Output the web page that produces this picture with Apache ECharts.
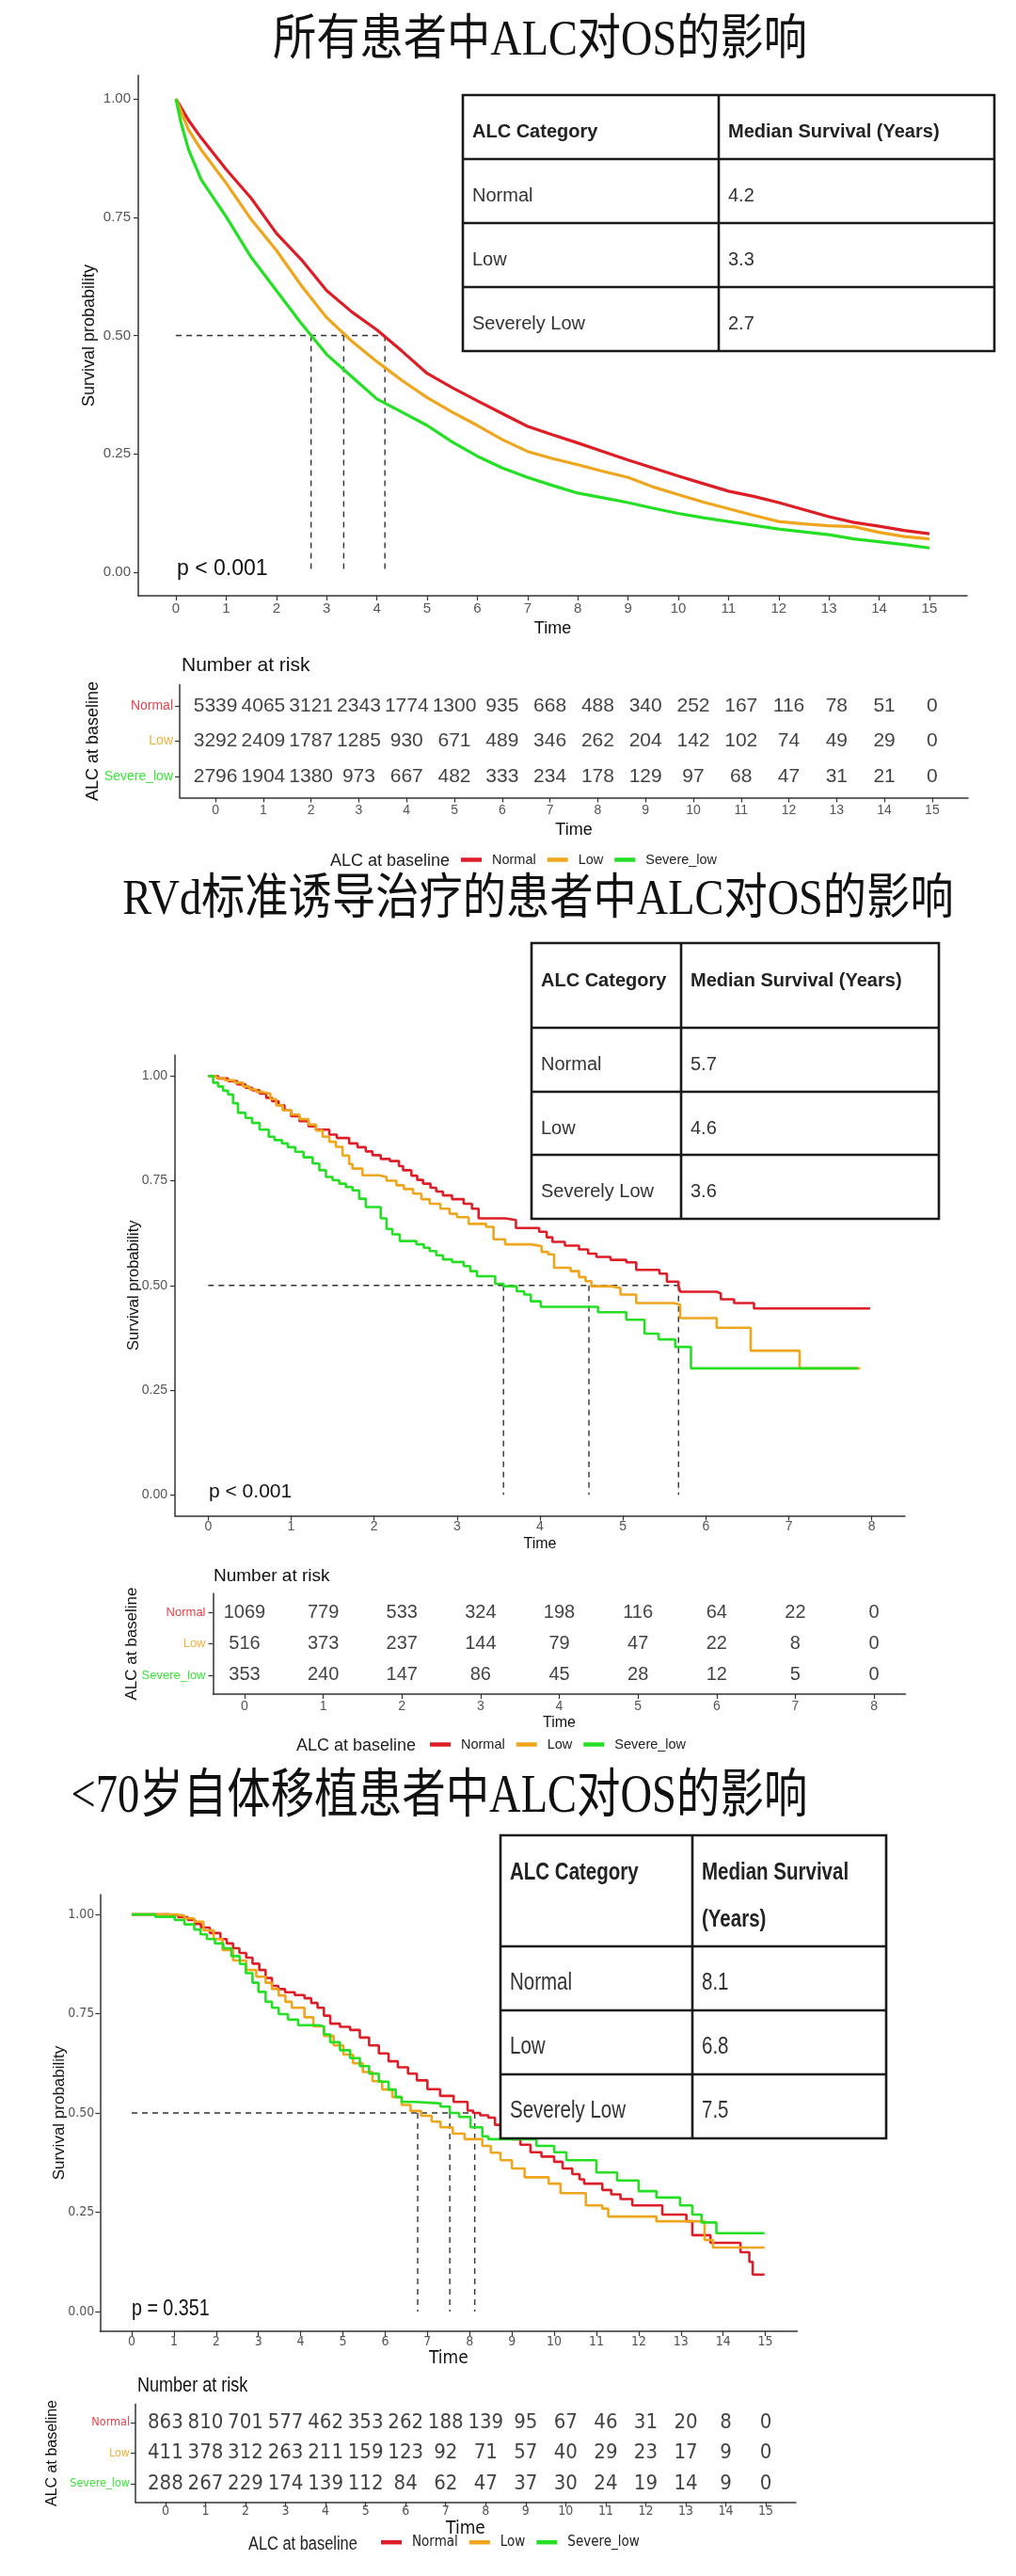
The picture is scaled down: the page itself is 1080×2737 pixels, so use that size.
<!DOCTYPE html>
<html><head><meta charset="utf-8">
<script src="https://cdn.jsdelivr.net/npm/echarts@6/dist/echarts.min.js"></script>
<style>html,body{margin:0;padding:0;background:#fff}#c{width:1080px;height:2737px}</style>
</head><body><div id="c"></div>
<script>
// ---------------- DATA ----------------
const categories = ['Normal', 'Low', 'Severe_low'];
const tableCats = ['Normal', 'Low', 'Severely Low'];

// Panel 1: all patients
const km1Normal = [[0,1],[0.25,0.955],[0.5,0.918],[1,0.851],[1.5,0.79],[2,0.716],[2.5,0.66],[3,0.595],[3.5,0.55],[4,0.512],[4.5,0.467],[5,0.42],[5.5,0.39],[6,0.362],[6.5,0.335],[7,0.308],[7.5,0.29],[8,0.273],[8.5,0.255],[9,0.237],[9.5,0.22],[10,0.203],[10.5,0.187],[11,0.171],[11.5,0.16],[12,0.147],[12.5,0.132],[13,0.117],[13.5,0.105],[14,0.097],[14.5,0.088],[15,0.081]];
const km1Low = [[0,1],[0.25,0.935],[0.5,0.893],[1,0.822],[1.5,0.745],[2,0.68],[2.5,0.605],[3,0.538],[3.5,0.488],[4,0.445],[4.5,0.405],[5,0.369],[5.5,0.338],[6,0.31],[6.5,0.28],[7,0.255],[7.5,0.24],[8,0.227],[8.5,0.213],[9,0.2],[9.5,0.18],[10,0.164],[10.5,0.148],[11,0.134],[11.5,0.12],[12,0.107],[12.5,0.102],[13,0.098],[13.5,0.096],[14,0.084],[14.5,0.075],[15,0.07]];
const km1Severe = [[0,1],[0.1,0.95],[0.25,0.893],[0.5,0.83],[1,0.751],[1.5,0.665],[2,0.595],[2.5,0.525],[3,0.46],[3.5,0.413],[4,0.366],[4.5,0.338],[5,0.31],[5.5,0.275],[6,0.245],[6.5,0.22],[7,0.2],[7.5,0.183],[8,0.167],[8.5,0.157],[9,0.147],[9.5,0.135],[10,0.124],[10.5,0.115],[11,0.107],[11.5,0.099],[12,0.091],[12.5,0.085],[13,0.079],[13.5,0.07],[14,0.064],[14.5,0.058],[15,0.051]];
const median1 = [4.2, 3.3, 2.7];
const medianLine1 = [4.16, 3.34, 2.69];
const risk1Times = [0,1,2,3,4,5,6,7,8,9,10,11,12,13,14,15];
const risk1Normal = [5339,4065,3121,2343,1774,1300,935,668,488,340,252,167,116,78,51,0];
const risk1Low = [3292,2409,1787,1285,930,671,489,346,262,204,142,102,74,49,29,0];
const risk1Severe = [2796,1904,1380,973,667,482,333,234,178,129,97,68,47,31,21,0];

// Panel 2: RVd induction
const km2Normal = [[0,1],[0.12,0.994],[0.24,0.988],[0.35,0.98],[0.45,0.972],[0.53,0.966],[0.62,0.958],[0.7,0.948],[0.77,0.94],[0.85,0.93],[0.92,0.918],[1.0,0.904],[1.1,0.892],[1.21,0.88],[1.3,0.872],[1.46,0.86],[1.55,0.852],[1.7,0.839],[1.8,0.83],[1.9,0.82],[1.98,0.811],[2.08,0.802],[2.19,0.797],[2.3,0.785],[2.35,0.775],[2.45,0.762],[2.52,0.752],[2.59,0.743],[2.68,0.733],[2.75,0.724],[2.83,0.715],[2.94,0.706],[3.08,0.695],[3.18,0.683],[3.26,0.66],[3.58,0.656],[3.71,0.637],[3.99,0.628],[4.08,0.615],[4.15,0.604],[4.3,0.595],[4.47,0.586],[4.58,0.576],[4.68,0.568],[4.85,0.561],[5.04,0.555],[5.16,0.537],[5.44,0.528],[5.53,0.509],[5.67,0.499],[5.69,0.485],[6.13,0.481],[6.18,0.467],[6.34,0.458],[6.58,0.445],[7.98,0.445]];
const km2Low = [[0,1],[0.1,0.995],[0.2,0.99],[0.32,0.984],[0.42,0.975],[0.5,0.968],[0.58,0.962],[0.65,0.958],[0.75,0.945],[0.82,0.93],[0.9,0.918],[1.0,0.908],[1.1,0.897],[1.21,0.884],[1.3,0.87],[1.38,0.855],[1.46,0.843],[1.54,0.831],[1.62,0.81],[1.7,0.79],[1.74,0.779],[1.86,0.763],[2.06,0.759],[2.15,0.75],[2.27,0.739],[2.36,0.73],[2.47,0.719],[2.57,0.706],[2.67,0.695],[2.8,0.683],[2.91,0.671],[3.0,0.663],[3.14,0.647],[3.35,0.64],[3.44,0.61],[3.58,0.598],[3.89,0.594],[4.02,0.58],[4.1,0.574],[4.17,0.542],[4.37,0.534],[4.47,0.52],[4.55,0.51],[4.62,0.498],[4.86,0.494],[4.97,0.478],[5.16,0.458],[5.61,0.454],[5.69,0.422],[6.13,0.399],[6.54,0.344],[7.13,0.302],[7.86,0.302]];
const km2Severe = [[0,1],[0.06,0.984],[0.12,0.975],[0.18,0.965],[0.24,0.956],[0.3,0.935],[0.36,0.912],[0.45,0.9],[0.53,0.888],[0.62,0.872],[0.73,0.855],[0.8,0.847],[0.89,0.839],[0.96,0.83],[1.05,0.819],[1.15,0.806],[1.26,0.791],[1.34,0.775],[1.42,0.759],[1.5,0.751],[1.58,0.743],[1.66,0.735],[1.74,0.727],[1.82,0.707],[1.9,0.687],[2.08,0.66],[2.15,0.635],[2.22,0.622],[2.31,0.606],[2.51,0.598],[2.6,0.59],[2.67,0.582],[2.75,0.572],[2.83,0.562],[2.94,0.556],[3.08,0.546],[3.16,0.534],[3.24,0.522],[3.46,0.504],[3.56,0.498],[3.72,0.486],[3.81,0.478],[3.89,0.462],[4.01,0.449],[4.7,0.436],[5.04,0.418],[5.26,0.385],[5.43,0.371],[5.63,0.353],[5.82,0.302],[7.83,0.302]];
const median2 = [5.7, 4.6, 3.6];
const medianLine2 = [5.67, 4.59, 3.56];
const risk2Times = [0,1,2,3,4,5,6,7,8];
const risk2Normal = [1069,779,533,324,198,116,64,22,0];
const risk2Low = [516,373,237,144,79,47,22,8,0];
const risk2Severe = [353,240,147,86,45,28,12,5,0];

// Panel 3: <70 autologous transplant
const km3Normal = [[0,1],[0.87,0.998],[1.1,0.993],[1.33,0.986],[1.5,0.976],[1.64,0.967],[1.85,0.953],[2.1,0.938],[2.25,0.927],[2.4,0.915],[2.55,0.903],[2.71,0.891],[2.86,0.876],[3.02,0.86],[3.17,0.84],[3.32,0.82],[3.47,0.812],[3.63,0.804],[3.86,0.797],[4.09,0.789],[4.25,0.777],[4.4,0.765],[4.55,0.745],[4.7,0.725],[4.93,0.717],[5.17,0.709],[5.4,0.69],[5.62,0.67],[5.85,0.65],[6.08,0.63],[6.3,0.615],[6.54,0.599],[6.75,0.582],[7.0,0.56],[7.3,0.543],[7.62,0.528],[7.95,0.506],[8.08,0.5],[8.25,0.494],[8.44,0.488],[8.6,0.47],[8.73,0.457],[9.01,0.434],[9.2,0.42],[9.44,0.401],[9.7,0.39],[10.0,0.377],[10.2,0.36],[10.43,0.346],[10.6,0.333],[10.71,0.322],[11.14,0.306],[11.35,0.295],[11.57,0.283],[11.85,0.267],[12.56,0.244],[13.13,0.227],[13.27,0.192],[13.7,0.173],[14.41,0.149],[14.62,0.125],[14.7,0.093],[14.98,0.093]];
const km3Low = [[0,1],[1.02,0.997],[1.25,0.99],[1.48,0.982],[1.7,0.96],[1.94,0.938],[2.15,0.91],[2.4,0.884],[2.71,0.86],[2.95,0.843],[3.17,0.828],[3.32,0.812],[3.48,0.796],[3.64,0.78],[3.79,0.765],[4.09,0.741],[4.3,0.718],[4.55,0.694],[4.78,0.67],[5.01,0.647],[5.24,0.625],[5.47,0.603],[5.7,0.58],[5.93,0.559],[6.17,0.54],[6.39,0.52],[6.6,0.505],[6.85,0.493],[7.1,0.478],[7.31,0.464],[7.6,0.448],[7.88,0.434],[8.3,0.417],[8.5,0.4],[8.73,0.381],[9.0,0.36],[9.3,0.338],[9.87,0.322],[10.15,0.298],[10.75,0.267],[11.14,0.259],[11.28,0.239],[12.42,0.227],[13.56,0.18],[13.76,0.161],[14.98,0.161]];
const km3Severe = [[0,1],[0.56,0.994],[1.02,0.986],[1.25,0.975],[1.48,0.962],[1.63,0.95],[1.78,0.938],[1.97,0.927],[2.17,0.915],[2.36,0.895],[2.56,0.875],[2.7,0.852],[2.86,0.828],[3.0,0.805],[3.17,0.78],[3.32,0.765],[3.48,0.749],[3.7,0.735],[3.94,0.721],[4.4,0.718],[4.55,0.698],[4.7,0.678],[4.93,0.658],[5.17,0.638],[5.4,0.618],[5.62,0.599],[5.85,0.579],[6.08,0.559],[6.25,0.54],[6.39,0.528],[6.7,0.524],[7.31,0.516],[7.53,0.5],[7.75,0.49],[8.02,0.464],[8.3,0.441],[8.44,0.434],[9.58,0.417],[10.0,0.401],[10.29,0.381],[11.0,0.35],[11.49,0.33],[12.0,0.303],[12.42,0.287],[12.98,0.267],[13.27,0.244],[13.49,0.224],[13.84,0.197],[14.98,0.197]];
const median3 = [8.1, 6.8, 7.5];
const medianLine3 = [8.12, 6.77, 7.53];
const risk3Times = [0,1,2,3,4,5,6,7,8,9,10,11,12,13,14,15];
const risk3Normal = [863,810,701,577,462,353,262,188,139,95,67,46,31,20,8,0];
const risk3Low = [411,378,312,263,211,159,123,92,71,57,40,29,23,17,9,0];
const risk3Severe = [288,267,229,174,139,112,84,62,47,37,30,24,19,14,9,0];
const yTicks = [0, 0.25, 0.5, 0.75, 1];

// ---------------- STYLE / LAYOUT ----------------
const COLORS = ['#DD1E26', '#EFA51C', '#25DF25'];
const LABEL_COLORS = ['#E8414A', '#F1B13A', '#3BE53B'];
const SANS = '"Liberation Sans", Arial, sans-serif';
const NARROW = '"Liberation Sans Narrow", "DejaVu Sans Condensed", "Liberation Sans", sans-serif';
const TITLEFONT = '"Liberation Serif", "Noto Sans CJK SC", serif';

const grids = [], xAxes = [], yAxes = [], series = [], graphics = [], legends = [];

function txt(x, y, text, o) {
  graphics.push({type: 'text', x: x, y: y, z: o.z || 12, scaleX: o.sx || 1, silent: true,
    style: {text: text, fontSize: o.fs, fontFamily: o.ff || SANS, fontWeight: o.fw || 'normal',
      fill: o.fill || '#222', align: o.align || 'left', verticalAlign: 'middle'}});
}

function axis(gi, o) {
  return {
    gridIndex: gi, type: 'value', min: o.min, max: o.max, inverse: !!o.inverse,
    axisLine: {show: true, onZero: false, lineStyle: {color: '#333', width: 1.5}},
    axisTick: {show: true, length: 5, lineStyle: {color: '#333', width: 1.2}, customValues: o.ticks},
    axisLabel: {show: true, customValues: o.ticks, color: o.lc || '#555', fontSize: o.fs, fontFamily: o.ff,
      margin: o.margin, formatter: o.fmt, rich: o.rich},
    splitLine: {show: false},
    name: o.name, nameLocation: 'middle', nameGap: o.nameGap, nameRotate: o.nameRotate || 0, nameMoveOverlap: false,
    nameTextStyle: {color: '#111', fontSize: o.nfs, fontFamily: o.nff || SANS}
  };
}

function addTable(T) {
  const ys = T.ys;
  graphics.push({type: 'rect', z: 10, silent: true, shape: {x: T.left, y: ys[0], width: T.right - T.left, height: ys[4] - ys[0]},
    style: {fill: '#fff', stroke: '#1a1a1a', lineWidth: 2.6}});
  [ys[1], ys[2], ys[3]].forEach(function (y) {
    graphics.push({type: 'line', z: 11, silent: true, shape: {x1: T.left, y1: y, x2: T.right, y2: y}, style: {stroke: '#1a1a1a', lineWidth: 2.6}});
  });
  graphics.push({type: 'line', z: 11, silent: true, shape: {x1: T.div, y1: ys[0], x2: T.div, y2: ys[4]}, style: {stroke: '#1a1a1a', lineWidth: 2.6}});
  T.head[0].forEach(function (s, i) { txt(T.left + T.pad, T.headY[i], s, {fs: T.fs, ff: SANS, fw: 'bold', fill: '#222', sx: T.sx}); });
  T.head[1].forEach(function (s, i) { txt(T.div + T.pad, T.headY[i], s, {fs: T.fs, ff: SANS, fw: 'bold', fill: '#222', sx: T.sx}); });
  tableCats.forEach(function (c, i) {
    txt(T.left + T.pad, T.bodyY[i], c, {fs: T.fs, ff: SANS, fill: '#333', sx: T.sx});
    txt(T.div + T.pad, T.bodyY[i], T.values[i].toFixed(1), {fs: T.fs, ff: SANS, fill: '#333', sx: T.sx});
  });
}

function addPanel(P) {
  // title
  txt(P.title.x, P.title.y, P.title.text, {fs: P.title.fs, ff: TITLEFONT, fill: '#111', align: 'center', sx: P.title.sx});
  // KM grid
  const gk = grids.length;
  grids.push({left: P.km.left, top: P.km.top, width: P.km.width, height: P.km.height, containLabel: false, outerBoundsMode: 'none'});
  xAxes.push(axis(gk, {min: P.km.xmin, max: P.km.xmax, ticks: P.xTicks, fs: P.km.xfs, ff: P.ff, margin: P.km.xmargin,
    fmt: function (v) { return String(v); }, name: 'Time', nameGap: P.km.xnameGap, nfs: P.km.nfs, nff: P.ff}));
  yAxes.push(axis(gk, {min: -0.05, max: 1.05, ticks: yTicks, fs: P.km.yfs, ff: P.ff, margin: P.km.ymargin,
    fmt: function (v) { return v.toFixed(2); }, name: 'Survival probability', nameGap: P.km.ynameGap, nameRotate: 90, nfs: P.km.ynfs, nff: SANS}));
  // median lines
  const mmax = Math.max.apply(null, P.medianLine);
  const dashStyle = {color: '#333', width: 1.4, type: [6, 5]};
  series.push({type: 'line', xAxisIndex: gk, yAxisIndex: gk, data: [[0, 0.5], [mmax, 0.5]], symbol: 'none', silent: true, z: 1, lineStyle: dashStyle});
  P.medianLine.forEach(function (m) {
    series.push({type: 'line', xAxisIndex: gk, yAxisIndex: gk, data: [[m, 0.5], [m, 0]], symbol: 'none', silent: true, z: 1, lineStyle: dashStyle});
  });
  // curves
  P.curves.forEach(function (d, g) {
    series.push({type: 'line', name: categories[g], xAxisIndex: gk, yAxisIndex: gk, data: d, step: P.step ? 'end' : false,
      symbol: 'none', showSymbol: false, silent: true, z: 3 + g, color: COLORS[g],
      itemStyle: {color: COLORS[g]}, lineStyle: {color: COLORS[g], width: P.lw}});
  });
  // p value
  txt(P.p.x, P.p.y, P.p.text, {fs: P.p.fs, ff: SANS, fill: '#111', sx: P.gsx});
  // table
  addTable(P.table);
  // risk table
  const gr = grids.length;
  grids.push({left: P.risk.left, top: P.risk.top, width: P.risk.width, height: P.risk.height, containLabel: false, outerBoundsMode: 'none'});
  xAxes.push(axis(gr, {min: P.risk.xmin, max: P.risk.xmax, ticks: P.xTicks, fs: P.risk.xfs, ff: P.ff, margin: P.risk.xmargin,
    fmt: function (v) { return String(v); }, name: 'Time', nameGap: P.risk.xnameGap, nfs: P.risk.nfs, nff: P.ff}));
  const rich = {};
  categories.forEach(function (c, i) { rich['g' + (i + 1)] = {color: LABEL_COLORS[i], fontSize: P.risk.lfs, fontFamily: P.ff}; });
  yAxes.push(axis(gr, {min: 0.4, max: 3.6, inverse: true, ticks: [1, 2, 3], fs: P.risk.lfs, ff: P.ff, margin: P.risk.ymargin,
    fmt: function (v) { return '{g' + v + '|' + categories[v - 1] + '}'; }, rich: rich,
    name: 'ALC at baseline', nameGap: P.risk.ynameGap, nameRotate: 90, nfs: P.risk.ynfs, nff: SANS}));
  P.riskCounts.forEach(function (counts, g) {
    series.push({type: 'scatter', xAxisIndex: gr, yAxisIndex: gr, silent: true, symbolSize: 1,
      itemStyle: {color: 'rgba(0,0,0,0)'},
      data: P.riskTimes.map(function (t, i) { return [t, g + 1, counts[i]]; }),
      label: {show: true, position: 'inside', formatter: function (p) { return String(p.value[2]); },
        color: '#111', fontSize: P.risk.nfsNum, fontFamily: P.ff}});
  });
  txt(P.risk.titleX, P.risk.titleY, 'Number at risk', {fs: P.risk.tfs, ff: SANS, fill: '#111', sx: P.gsx});
  // legend
  txt(P.legend.titleX, P.legend.y, 'ALC at baseline', {fs: P.legend.tfs, ff: SANS, fill: '#222', sx: P.gsx});
  legends.push({left: P.legend.left, top: P.legend.y - P.legend.fs * 0.62, padding: 0, itemWidth: 22, itemHeight: 4.5, itemGap: 12,
    selectedMode: false, icon: 'rect', data: categories,
    textStyle: {fontSize: P.legend.fs, fontFamily: P.ff, color: '#222', padding: [0, 0, 0, 6]}});
}

addPanel({
  title: {text: '所有患者中ALC对OS的影响', x: 574, y: 44, fs: 52, sx: 0.89},
  ff: SANS, gsx: 1, step: false, lw: 3.2, xTicks: risk1Times,
  km: {left: 147, top: 80, width: 881, height: 553, xmin: -0.75, xmax: 15.75, xfs: 15, yfs: 15, xmargin: 6, ymargin: 8,
    xnameGap: 26, nfs: 18, ynameGap: 43, ynfs: 18},
  curves: [km1Normal, km1Low, km1Severe], medianLine: medianLine1,
  p: {text: 'p < 0.001', x: 188, y: 605, fs: 23},
  table: {left: 492, div: 764, right: 1057, ys: [101, 169, 237, 305, 373], pad: 10, fs: 20, sx: 1,
    head: [['ALC Category'], ['Median Survival (Years)']], headY: [140], bodyY: [208, 276, 344], values: median1},
  risk: {left: 191, top: 727.5, width: 838, height: 120, xmin: -0.75, xmax: 15.75, xfs: 14, xmargin: 7, xnameGap: 26, nfs: 18, lfs: 14, ymargin: 7,
    ynameGap: 83, ynfs: 18, nfsNum: 21, titleX: 193, titleY: 707, tfs: 21},
  riskTimes: risk1Times, riskCounts: [risk1Normal, risk1Low, risk1Severe],
  legend: {titleX: 351, y: 915, tfs: 18, left: 490, fs: 14.5}
});

addPanel({
  title: {text: 'RVd标准诱导治疗的患者中ALC对OS的影响', x: 572, y: 957, fs: 52, sx: 0.89},
  ff: SANS, gsx: 1, step: true, lw: 2.6, xTicks: risk2Times,
  km: {left: 186, top: 1121, width: 776, height: 489.5, xmin: -0.4, xmax: 8.4, xfs: 14, yfs: 14, xmargin: 5, ymargin: 8,
    xnameGap: 22, nfs: 16, ynameGap: 35, ynfs: 16.5},
  curves: [km2Normal, km2Low, km2Severe], medianLine: medianLine2,
  p: {text: 'p < 0.001', x: 222, y: 1585, fs: 21},
  table: {left: 565, div: 724, right: 998, ys: [1002, 1092, 1160, 1227, 1295], pad: 10, fs: 20, sx: 1,
    head: [['ALC Category'], ['Median Survival (Years)']], headY: [1042], bodyY: [1131, 1199, 1266], values: median2},
  risk: {left: 226.5, top: 1693, width: 736, height: 107, xmin: -0.4, xmax: 8.4, xfs: 14, xmargin: 6, xnameGap: 23, nfs: 16, lfs: 13, ymargin: 8,
    ynameGap: 78, ynfs: 17, nfsNum: 20, titleX: 227, titleY: 1675, tfs: 19},
  riskTimes: risk2Times, riskCounts: [risk2Normal, risk2Low, risk2Severe],
  legend: {titleX: 315, y: 1855, tfs: 18, left: 457, fs: 14.5}
});

addPanel({
  title: {text: '<70岁自体移植患者中ALC对OS的影响', x: 467, y: 1910, fs: 56, sx: 0.83},
  ff: NARROW, gsx: 0.82, step: true, lw: 2.6, xTicks: risk3Times,
  km: {left: 106.3, top: 2013, width: 741, height: 464, xmin: -0.75, xmax: 15.75, xfs: 14, yfs: 14, xmargin: 4, ymargin: 6,
    xnameGap: 20, nfs: 19, ynameGap: 34, ynfs: 17},
  curves: [km3Normal, km3Low, km3Severe], medianLine: medianLine3,
  p: {text: 'p = 0.351', x: 140, y: 2453, fs: 24},
  table: {left: 532, div: 736, right: 942, ys: [1950, 2068, 2136, 2204, 2272], pad: 10, fs: 25, sx: 0.82,
    head: [['ALC Category'], ['Median Survival', '(Years)']], headY: [1990, 2040], bodyY: [2107, 2175, 2243], values: median3},
  risk: {left: 144, top: 2554.5, width: 702, height: 104, xmin: -0.75, xmax: 15.75, xfs: 14, xmargin: 3, xnameGap: 19, nfs: 19, lfs: 12.5, ymargin: 6,
    ynameGap: 80, ynfs: 16, nfsNum: 22, titleX: 146, titleY: 2535, tfs: 22},
  riskTimes: risk3Times, riskCounts: [risk3Normal, risk3Low, risk3Severe],
  legend: {titleX: 264, y: 2703, tfs: 20, left: 405, fs: 15}
});

const chart = echarts.init(document.getElementById('c'), null, {renderer: 'canvas', width: 1080, height: 2737});
chart.setOption({
  animation: false,
  backgroundColor: '#fff',
  grid: grids, xAxis: xAxes, yAxis: yAxes, series: series, legend: legends,
  graphic: {elements: graphics}
});
</script></body></html>
